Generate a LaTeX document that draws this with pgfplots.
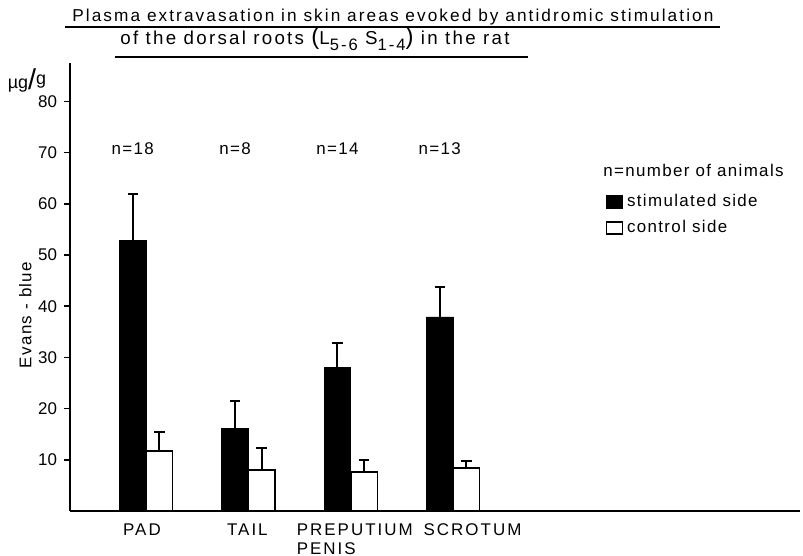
\documentclass[border=0pt]{standalone}
\usepackage{fontspec}
\setmainfont{Liberation Sans}
\newfontfamily\spaced[LetterSpace=8]{Liberation Sans}
\newfontfamily\wide[LetterSpace=12]{Liberation Sans}
\usepackage{pgfplots}
\pgfplotsset{compat=1.18}

% stimulated side: mean and upper error (Evans blue, ug/g)
\pgfplotstableread{
x y err
1 52.9 9.0
2 16.2 5.3
3 28.1 4.7
4 37.9 5.9
}\stimdata
% control side
\pgfplotstableread{
x y err
1 11.7 3.7
2 8.0 4.3
3 7.6 2.4
4 8.4 1.4
}\ctrldata

\newcommand{\sub}[1]{\raisebox{-2.8pt}{\fontsize{8.3}{9}\selectfont #1}}

\begin{document}
\begin{tikzpicture}
\begin{axis}[
    scale only axis,
    width=365bp, height=224bp,
    ybar=0pt, bar width=0.26,
    xmin=0.257, xmax=7.39,
    ymin=0, ymax=87.5,
    axis x line=bottom, axis y line=left,
    axis line style={-, line width=1.1pt},
    ytick={10,20,...,80},
    xtick={0.96,1.99,3.04,4.19},
    xticklabels={PAD,TAIL,{PREPUTIUM\\PENIS},SCROTUM},
    xticklabel style={align=left, font=\wide\fontsize{8.5}{9.5}\selectfont},
    x tick style={draw=none},
    y tick style={line width=0.8pt, black},
    tick align=outside,
    major tick length=3bp,
    yticklabel style={font=\fontsize{8.5}{10}\selectfont},
    /pgf/number format/assume math mode=true,
    ylabel={\spaced Evans - blue},
    ylabel style={at={(rel axis cs:-0.053,0.4375)}, anchor=base, font=\fontsize{8.5}{10}\selectfont},
    legend style={at={(rel axis cs:0.733,0.717)}, anchor=north west, draw=none, fill=none,
        font=\spaced\fontsize{8.5}{10}\selectfont, row sep=1.5bp, inner sep=0pt},
    legend cell align=left,
    legend image code/.code={\draw[#1, line width=0.8pt] (0bp,-3bp) rectangle (8bp,3bp);},
    error bars/error bar style={line width=1pt, black},
    error bars/error mark options={rotate=90, mark size=2.6bp, line width=1pt, black},
    clip=false,
]
\addplot[fill=black, draw=black, error bars/.cd, y dir=plus, y explicit]
    table[x=x, y=y, y error=err] {\stimdata};
\addlegendentry{stimulated side}
\addplot[fill=white, draw=black, line width=0.8pt, error bars/.cd, y dir=plus, y explicit]
    table[x=x, y=y, y error=err] {\ctrldata};
\addlegendentry{control side}

\node[font=\spaced\fontsize{8.5}{10}\selectfont] at (axis cs:0.87,70.7) {n=18};
\node[font=\spaced\fontsize{8.5}{10}\selectfont] at (axis cs:1.87,70.7) {n=8};
\node[font=\spaced\fontsize{8.5}{10}\selectfont] at (axis cs:2.87,70.7) {n=14};
\node[font=\spaced\fontsize{8.5}{10}\selectfont] at (axis cs:3.87,70.7) {n=13};

\node[anchor=base west, inner sep=0pt, font=\spaced\fontsize{8.5}{10}\selectfont]
    at (rel axis cs:0.730,0.746) {n=number of animals};

\node[font=\fontsize{9}{10}\selectfont, inner sep=0pt] at (rel axis cs:-0.059,0.962)
    {µg\raisebox{-0.5pt}{\Large/}\raisebox{2pt}{g}};

\node[anchor=base west, inner sep=0pt, font=\wide\fontsize{8.65}{10}\selectfont]
    at (rel axis cs:0.0027,1.0915) {Plasma extravasation in skin areas evoked by antidromic stimulation};
\draw[line width=0.9pt] (rel axis cs:-0.0068,1.0804) -- (rel axis cs:0.890,1.0804);
\node[anchor=base west, inner sep=0pt, font=\wide\fontsize{9.4}{10}\selectfont]
    at (rel axis cs:0.0685,1.0402) {of the dorsal roots {\large(}L\sub{5-6} S\sub{1-4}{\large)} in the rat};
\draw[line width=0.9pt] (rel axis cs:0.0616,1.0134) -- (rel axis cs:0.627,1.0134);

\coordinate (bbsw) at (rel axis cs:-0.0959,-0.1004);
\coordinate (bbne) at (rel axis cs:1.0041,1.1406);
\end{axis}
\pgfresetboundingbox
\path[use as bounding box] (bbsw) rectangle (bbne);
\end{tikzpicture}
\end{document}
